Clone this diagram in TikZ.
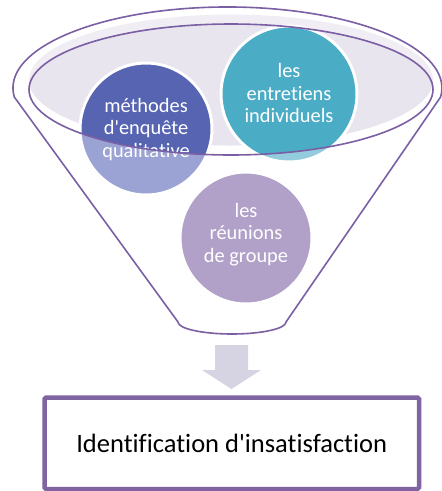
\documentclass[tikz,border=0pt]{standalone}
\usepackage{fontspec}
\setmainfont{Carlito}[Ligatures={TeXOff,NoCommon}]
\definecolor{funnelline}{HTML}{7A5FA5}
\definecolor{openlight}{HTML}{F0EEF4}
\definecolor{opendark}{HTML}{E8E5EE}
\definecolor{bluedark}{HTML}{5664B2}
\definecolor{bluelight}{HTML}{9AA3D3}
\definecolor{tealdark}{HTML}{4BACC6}
\definecolor{teallight}{HTML}{93CDDD}
\definecolor{lilac}{HTML}{B1A1C8}
\definecolor{arrowfill}{HTML}{D6D3E3}
\definecolor{boxline}{HTML}{8064A2}
\tikzset{
  funnel/.style={draw=funnelline, line width=1.6pt, line join=round},
  ring/.style={draw=white, line width=3pt},
  bubbletext/.style={text=white, align=center, font=\fontsize{20.4}{22.7}\selectfont},
  resultbox/.style={draw=boxline, line width=4.5pt, rounded corners=1.5pt,
    minimum width=374.5pt, minimum height=91.5pt, fill=white,
    font=\fontsize{26.5}{30}\selectfont, text=black},
}
\begin{document}
\begin{tikzpicture}[x=1pt,y=1pt]
\useasboundingbox (0,0) rectangle (442,-491);

% opening of the funnel: soft fill slightly above the rim
\fill[openlight] (231,-80) ellipse[x radius=202, y radius=65.5];
\begin{scope}
  \clip (231,-80) ellipse[x radius=202, y radius=65.5];
  \fill[opendark] (231,-89.5) ellipse[x radius=202, y radius=65.5];
\end{scope}

% bubbles: pale outside the rim, strong inside it
\fill[bluelight] (146,-129) circle[radius=67];
\fill[teallight] (289,-94) circle[radius=69];
\begin{scope}
  \clip (231,-89.5) ellipse[x radius=202, y radius=65.5];
  \fill[bluedark] (146,-129) circle[radius=67];
  \fill[tealdark] (289,-94) circle[radius=69];
\end{scope}
\fill[lilac] (246,-238) circle[radius=67];
\draw[ring] (146,-129) circle[radius=66];
\draw[ring] (289,-94) circle[radius=68];
\draw[ring] (246,-238) circle[radius=66];

\node[bubbletext] (methodes) at (146,-129.5) {méthodes\\d'enquête\\qualitative};
\node[bubbletext] (entretiens) at (289,-93) {les\\entretiens\\individuels};
\node[bubbletext] (reunions) at (246,-234.5) {les\\réunions\\de groupe};

% rim of the opening
\draw[funnel] (231,-89.5) ellipse[x radius=202, y radius=65.5];

% funnel body: upper half of the mouth, sides and neck
\draw[funnel] (14.3,-97) arc[start angle=186.4, end angle=-6.4, x radius=214.5, y radius=81]
  -- (286,-322) arc[start angle=0, end angle=-180, x radius=54, y radius=12] -- cycle;

% block arrow down to the result
\fill[arrowfill] (215,-345) -- (248,-345) -- (248,-370) -- (261,-370) -- (231.5,-389)
  -- (202,-370) -- (215,-370) -- cycle;

\node[resultbox] (result) at (231.75,-443.25) {Identification d'insatisfaction};
\end{tikzpicture}
\end{document}
